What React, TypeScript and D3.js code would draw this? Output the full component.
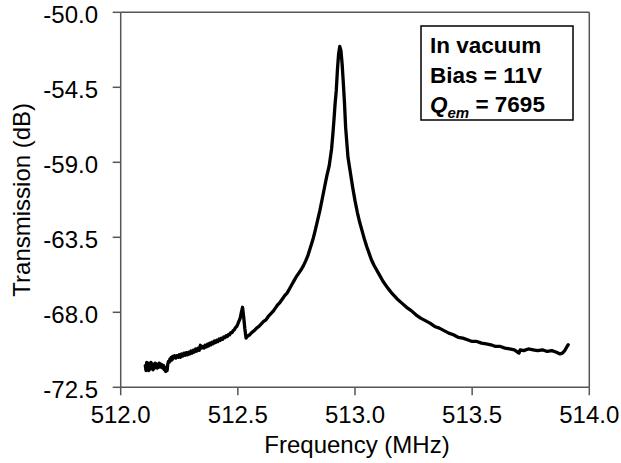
import React from "react";
import * as d3 from "d3";

// [frequency MHz, transmission dB]
const lowSide: [number, number][] = [
  [512.105, -71.2], [512.108, -71.5], [512.111, -71.0], [512.114, -71.45], [512.117, -71.05],
  [512.12, -71.5], [512.123, -71.1], [512.126, -71.4], [512.129, -71.0], [512.132, -71.35],
  [512.135, -71.1], [512.138, -71.45], [512.141, -71.15], [512.144, -71.35], [512.147, -71.05],
  [512.15, -71.3], [512.153, -71.1], [512.156, -71.35], [512.159, -71.15], [512.162, -71.3],
  [512.165, -71.05], [512.168, -71.25], [512.171, -71.1], [512.174, -71.3], [512.177, -71.15],
  [512.18, -71.35], [512.183, -71.2], [512.186, -71.45], [512.189, -71.3], [512.192, -71.55],
  [512.195, -71.4], [512.198, -71.5], [512.201, -71.1], [512.204, -70.95], [512.207, -71.0],
  [512.21, -70.8], [512.213, -70.9], [512.216, -70.7], [512.219, -70.85], [512.222, -70.65],
  [512.225, -70.75], [512.23, -70.6], [512.235, -70.75], [512.24, -70.6], [512.245, -70.7],
  [512.25, -70.55], [512.255, -70.7], [512.26, -70.5], [512.265, -70.62], [512.27, -70.45],
  [512.275, -70.58], [512.28, -70.42], [512.285, -70.55], [512.29, -70.4], [512.295, -70.5],
  [512.3, -70.32], [512.305, -70.45], [512.31, -70.28], [512.315, -70.38], [512.32, -70.2],
  [512.325, -70.32], [512.33, -70.15], [512.335, -70.28], [512.34, -69.98], [512.345, -70.15],
  [512.35, -70.05], [512.355, -70.15], [512.36, -69.98], [512.365, -70.08], [512.37, -69.92],
  [512.375, -70.02], [512.38, -69.85], [512.385, -69.95], [512.39, -69.8], [512.395, -69.88],
  [512.4, -69.72], [512.405, -69.82], [512.41, -69.68], [512.415, -69.75], [512.42, -69.6],
  [512.425, -69.68], [512.43, -69.55], [512.435, -69.62], [512.44, -69.48], [512.445, -69.52],
  [512.45, -69.4], [512.455, -69.45], [512.46, -69.33], [512.465, -69.35], [512.47, -69.22],
  [512.475, -69.22], [512.48, -69.1], [512.485, -69.05], [512.49, -68.92], [512.495, -68.85],
  [512.5, -68.7], [512.51, -68.35], [512.515, -68.0], [512.52, -67.7], [512.525, -68.3],
  [512.53, -69.0], [512.535, -69.55], [512.54, -69.45], [512.55, -69.35], [512.56, -69.2],
  [512.57, -69.1], [512.58, -68.95], [512.59, -68.85], [512.6, -68.7], [512.61, -68.55],
  [512.62, -68.45], [512.63, -68.25], [512.64, -68.1], [512.65, -67.95], [512.66, -67.75],
  [512.67, -67.55], [512.68, -67.4], [512.69, -67.2], [512.7, -67.0], [512.71, -66.85],
  [512.72, -66.6], [512.73, -66.35], [512.74, -66.1], [512.75, -65.85], [512.76, -65.65],
  [512.77, -65.45], [512.78, -65.2], [512.79, -64.9], [512.8, -64.55], [512.81, -64.1],
  [512.82, -63.65], [512.83, -63.1], [512.84, -62.5],
];

const peak: [number, number][] = [
  [512.85, -61.9], [512.86, -61.2], [512.87, -60.5], [512.88, -59.8], [512.89, -59.2],
  [512.9, -58.2], [512.905, -57.4], [512.91, -56.5], [512.915, -55.5], [512.92, -54.7],
  [512.925, -53.45], [512.93, -52.5], [512.935, -52.05], [512.94, -52.3], [512.945, -53.1],
  [512.95, -54.2], [512.955, -55.4], [512.96, -56.9], [512.965, -57.8], [512.97, -58.7],
  [512.98, -59.6], [512.99, -60.5], [513.0, -61.3], [513.01, -62.0], [513.02, -62.6],
];

const highSide: [number, number][] = [
  [513.03, -63.1], [513.04, -63.6], [513.05, -64.05], [513.06, -64.45], [513.07, -64.85],
  [513.08, -65.15], [513.09, -65.4], [513.1, -65.65], [513.12, -66.15], [513.14, -66.55],
  [513.16, -66.9], [513.18, -67.2], [513.2, -67.45], [513.22, -67.7], [513.24, -67.9],
  [513.26, -68.15], [513.28, -68.35], [513.3, -68.5], [513.32, -68.65], [513.34, -68.85],
  [513.36, -68.95], [513.38, -69.1], [513.4, -69.25], [513.42, -69.35], [513.44, -69.5],
  [513.46, -69.55], [513.48, -69.65], [513.5, -69.75], [513.52, -69.75], [513.54, -69.85],
  [513.56, -69.9], [513.58, -69.95], [513.6, -70.05], [513.62, -70.05], [513.64, -70.15],
  [513.66, -70.2], [513.68, -70.25], [513.7, -70.45], [513.705, -70.25], [513.72, -70.3],
  [513.74, -70.2], [513.76, -70.25], [513.78, -70.3], [513.8, -70.25], [513.82, -70.35],
  [513.84, -70.3], [513.86, -70.4], [513.875, -70.5], [513.885, -70.45], [513.895, -70.3],
  [513.905, -70.05], [513.91, -69.95],
];

const xTicks: number[] = [512.0, 512.5, 513.0, 513.5, 514.0];
const yTicks: number[] = [-50.0, -54.5, -59.0, -63.5, -68.0, -72.5];
const legendLines: string[] = ["In vacuum", "Bias = 11V"];
const qLabel = { main: "Q", sub: "em", rest: " = 7695" };
const xTitle = "Frequency (MHz)";
const yTitle = "Transmission (dB)";

const W = 621;
const H = 463;
const plot = { left: 120.7, right: 589.3, top: 12.3, bottom: 387.3 };
const FONT = "'Liberation Sans', Arial, Helvetica, sans-serif";
const AXIS = "#555";

export default function App() {
  const x = d3.scaleLinear().domain([512.0, 514.0]).range([plot.left, plot.right]);
  const y = d3.scaleLinear().domain([-72.5, -50.0]).range([plot.bottom, plot.top]);
  const pts: [number, number][] = [...lowSide, ...peak, ...highSide];
  const line = d3
    .line<[number, number]>()
    .x((d) => x(d[0]))
    .y((d) => y(d[1]));

  return (
    <svg
      width={W}
      height={H}
      style={{ position: "absolute", left: 0, top: 0, background: "#fff" }}
      fontFamily={FONT}
    >
      <rect x={0} y={0} width={W} height={H} fill="#fff" />
      <line x1={plot.left} x2={plot.right} y1={plot.top} y2={plot.top} stroke={AXIS} strokeWidth={1.5} />
      <line x1={plot.right} x2={plot.right} y1={plot.top} y2={plot.bottom} stroke={AXIS} strokeWidth={1.5} />
      <line x1={plot.left} x2={plot.left} y1={plot.top} y2={plot.bottom} stroke={AXIS} strokeWidth={1.5} />
      <line x1={plot.left} x2={plot.right} y1={plot.bottom} y2={plot.bottom} stroke={AXIS} strokeWidth={1.5} />
      {yTicks.map((t) => (
        <g key={"y" + t}>
          <line x1={plot.left - 8} x2={plot.left} y1={y(t)} y2={y(t)} stroke={AXIS} strokeWidth={1.5} />
          <text x={98} y={y(t) + 11} fontSize={24} textAnchor="end" fill="#000">
            {t.toFixed(1)}
          </text>
        </g>
      ))}
      {xTicks.map((t) => (
        <g key={"x" + t}>
          <line x1={x(t)} x2={x(t)} y1={plot.bottom} y2={plot.bottom + 8} stroke={AXIS} strokeWidth={1.5} />
          <text x={x(t)} y={423} fontSize={24} textAnchor="middle" fill="#000">
            {t.toFixed(1)}
          </text>
        </g>
      ))}
      <text x={357} y={452.5} fontSize={24} textAnchor="middle" fill="#000">
        {xTitle}
      </text>
      <text
        transform={`translate(30,${(plot.top + plot.bottom) / 2}) rotate(-90)`}
        fontSize={24}
        textAnchor="middle"
        fill="#000"
      >
        {yTitle}
      </text>
      <path
        d={line(pts) || ""}
        fill="none"
        stroke="#000"
        strokeWidth={3.3}
        strokeLinejoin="round"
        strokeLinecap="round"
      />
      <rect x={421} y={26} width={152} height={94} fill="#fff" stroke="#000" strokeWidth={1.5} />
      {legendLines.map((s, i) => (
        <text key={s} x={430} y={53.3 + i * 29.5} fontSize={22.5} fontWeight="bold" fill="#000">
          {s}
        </text>
      ))}
      <text x={430} y={111.5} fontSize={22.5} fontWeight="bold" fill="#000">
        <tspan fontStyle="italic">{qLabel.main}</tspan>
        <tspan fontStyle="italic" fontSize={15} dy={6}>
          {qLabel.sub}
        </tspan>
        <tspan dy={-6}>{qLabel.rest}</tspan>
      </text>
    </svg>
  );
}
